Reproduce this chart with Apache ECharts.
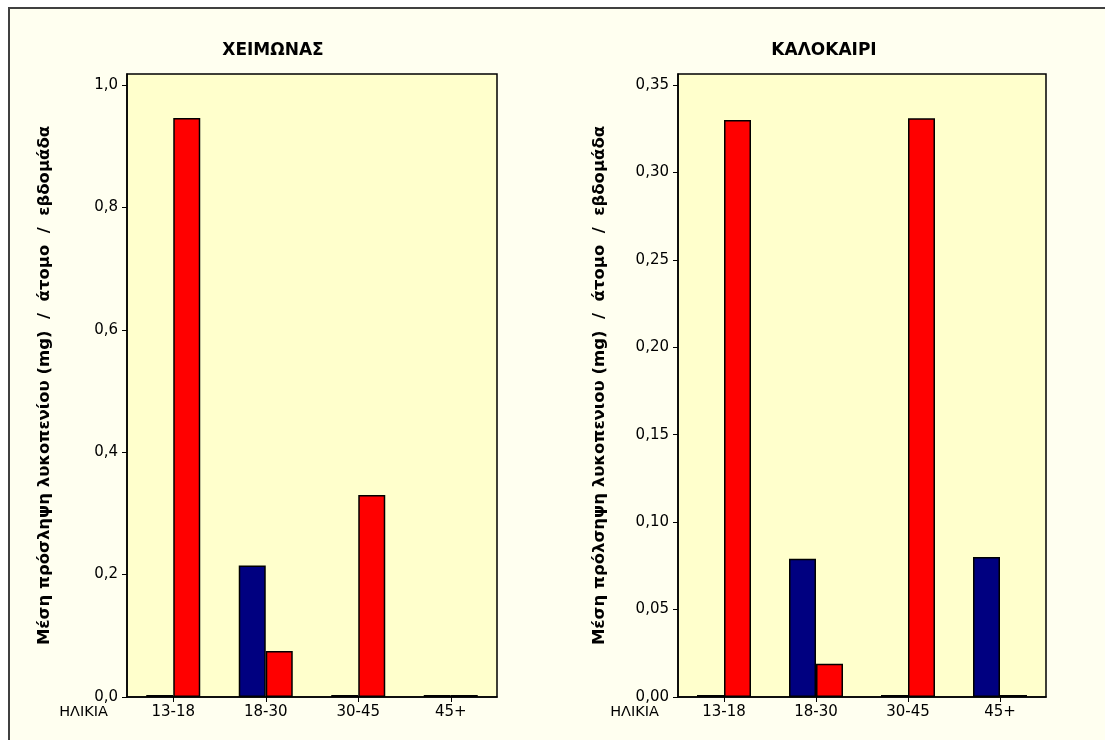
<!DOCTYPE html>
<html>
<head>
<meta charset="utf-8">
<script src="https://cdn.jsdelivr.net/npm/echarts@6/dist/echarts.min.js"></script>
<style>
html,body{margin:0;padding:0;background:#fff;}
#c{width:1105px;height:740px;}
</style>
</head>
<body>
<div id="c"></div>
<script>
// ---- data ----
var categories = ['13-18', '18-30', '30-45', '45+'];
var winterBlue = [0, 0.215, 0, 0];
var winterRed  = [0.946, 0.075, 0.33, 0];
var summerBlue = [0, 0.079, 0, 0.080];
var summerRed  = [0.330, 0.019, 0.331, 0];
var winterTicks = [0, 0.2, 0.4, 0.6, 0.8, 1.0];
var summerTicks = [0, 0.05, 0.10, 0.15, 0.20, 0.25, 0.30, 0.35];
var titles = ['ΧΕΙΜΩΝΑΣ', 'ΚΑΛΟΚΑΙΡΙ'];
var xName = 'ΗΛΙΚΙΑ';
var yNames = ['Μέση πρόσληψη λυκοπενίου (mg)  /  άτομο  /  εβδομάδα',
              'Μέση πρόλσηψη λυκοπενιου (mg)  /  άτομο  /  εβδομάδα'];

var FONT = 'Tahoma, "DejaVu Sans", Verdana, sans-serif';
var chart = echarts.init(document.getElementById('c'));

function fmt(d) { return function (v) { return v.toFixed(d).replace('.', ','); }; }

function yAxis(idx, ticks, max, dec, gap) {
  return {
    type: 'value', gridIndex: idx, min: 0, max: max,
    name: yNames[idx], nameLocation: 'middle', nameGap: gap,
    nameTextStyle: { fontFamily: FONT, fontWeight: 'bold', fontSize: 16.5, color: '#000' },
    axisLine: { show: true, lineStyle: { color: '#000', width: 1.5 } },
    axisTick: { show: true, length: 5, customValues: ticks, lineStyle: { color: '#000' } },
    axisLabel: { customValues: ticks, formatter: fmt(dec), color: '#000', fontFamily: FONT, fontSize: 15, margin: 9 },
    splitLine: { show: false }
  };
}
function xAxis(idx) {
  return {
    type: 'category', gridIndex: idx, data: categories,
    name: xName, nameLocation: 'start', nameGap: 19,
    nameTextStyle: { fontFamily: FONT, fontSize: 14.5, color: '#000', verticalAlign: 'top', padding: [8, 0, 0, 0] },
    axisLine: { show: true, lineStyle: { color: '#000', width: 1.5 } },
    axisTick: { show: true, alignWithLabel: true, length: 5, lineStyle: { color: '#000' } },
    axisLabel: { color: '#000', fontFamily: FONT, fontSize: 15, margin: 8 }
  };
}
function bar(idx, data, color) {
  return {
    type: 'bar', xAxisIndex: idx, yAxisIndex: idx, data: data,
    barWidth: 27, barGap: '0%', barMinHeight: 2,
    itemStyle: { color: color, borderColor: '#000', borderWidth: 1.5 },
    silent: true, animation: false
  };
}

chart.setOption({
  animation: false,
  backgroundColor: '#fff',
  graphic: [{
    type: 'rect', z: -10, silent: true,
    shape: { x: 9, y: 8, width: 1110, height: 750 },
    style: { fill: '#FFFFF0', stroke: '#404040', lineWidth: 2 }
  }],
  title: [
    { text: titles[0], left: 268, top: 37, textAlign: 'center',
      textStyle: { fontFamily: FONT, fontWeight: 'bold', fontSize: 17, color: '#000' } },
    { text: titles[1], left: 819, top: 37, textAlign: 'center',
      textStyle: { fontFamily: FONT, fontWeight: 'bold', fontSize: 17, color: '#000' } }
  ],
  grid: [
    { left: 127, top: 74, width: 370, height: 623, show: true, backgroundColor: '#FFFFCC', borderColor: '#000', borderWidth: 1.5 },
    { left: 678, top: 74, width: 368, height: 623, show: true, backgroundColor: '#FFFFCC', borderColor: '#000', borderWidth: 1.5 }
  ],
  xAxis: [xAxis(0), xAxis(1)],
  yAxis: [yAxis(0, winterTicks, 1.018, 1, 74), yAxis(1, summerTicks, 0.3563, 2, 70)],
  series: [
    bar(0, winterBlue, '#000080'), bar(0, winterRed, '#FF0000'),
    bar(1, summerBlue, '#000080'), bar(1, summerRed, '#FF0000')
  ]
});
</script>
</body>
</html>
